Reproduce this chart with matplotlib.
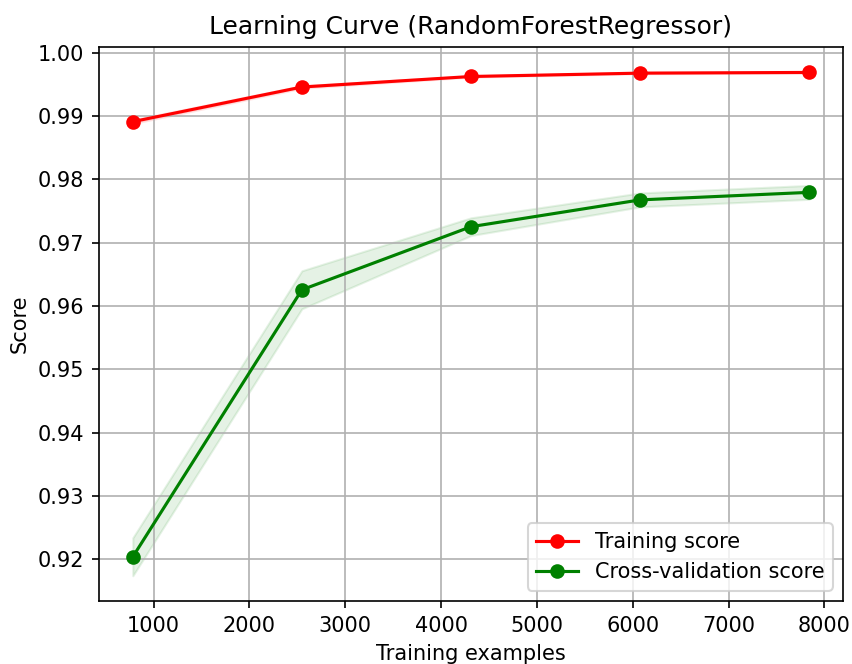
import numpy as np
import matplotlib
matplotlib.use("Agg")
import matplotlib.pyplot as plt

train_sizes = [784, 2548, 4312, 6076, 7840]
train_mean = [0.98911, 0.99458, 0.99624, 0.99677, 0.99688]
train_std = [0.0003, 0.0002, 0.0001, 0.0001, 0.0001]
cv_mean = [0.92042, 0.96257, 0.97253, 0.97676, 0.97795]
cv_std = [0.0030, 0.0030, 0.0014, 0.0011, 0.0011]

x = np.array(train_sizes)
tm, ts = np.array(train_mean), np.array(train_std)
cm, cs = np.array(cv_mean), np.array(cv_std)

fig = plt.figure(figsize=(852 / 150, 664 / 150), dpi=150)
ax = fig.add_axes([0.1162, 0.0949, 0.8732, 0.8349])
ax.set_title("Learning Curve (RandomForestRegressor)")
ax.set_xlabel("Training examples")
ax.set_ylabel("Score")
ax.grid()
ax.fill_between(x, tm - ts, tm + ts, alpha=0.1, color="r")
ax.fill_between(x, cm - cs, cm + cs, alpha=0.1, color="g")
ax.plot(x, tm, "o-", color="r", label="Training score")
ax.plot(x, cm, "o-", color="g", label="Cross-validation score")
ax.legend(loc="best")
fig.savefig("out.png", dpi=150)
